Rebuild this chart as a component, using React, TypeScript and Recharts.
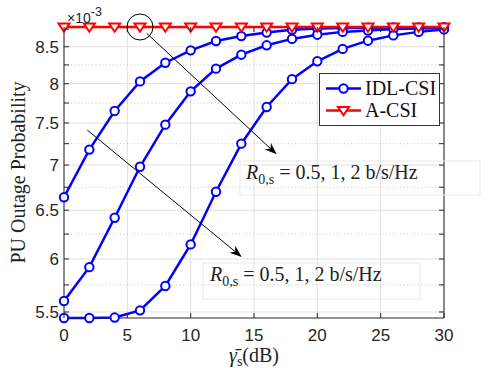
import {
  LineChart,
  Line,
  XAxis,
  YAxis,
  CartesianGrid,
  ReferenceLine,
  ReferenceDot,
  Legend,
  Label,
} from "recharts";

// SNR in dB, sampled every 2 dB
const SNR_DB = [0, 2, 4, 6, 8, 10, 12, 14, 16, 18, 20, 22, 24, 26, 28, 30];
// PU outage probability, in units of 1e-3
const IDL_R05 = [6.64, 7.18, 7.65, 8.03, 8.28, 8.45, 8.58, 8.65, 8.7, 8.74, 8.76, 8.765, 8.77, 8.773, 8.775, 8.777];
const IDL_R1 = [5.6, 5.92, 6.42, 6.98, 7.48, 7.9, 8.2, 8.39, 8.52, 8.61, 8.67, 8.71, 8.73, 8.75, 8.76, 8.766];
const IDL_R2 = [5.446, 5.446, 5.45, 5.515, 5.74, 6.145, 6.7, 7.25, 7.7, 8.06, 8.3, 8.47, 8.585, 8.66, 8.71, 8.745];
const A_CSI = [8.78, 8.78, 8.78, 8.78, 8.78, 8.78, 8.78, 8.78, 8.78, 8.78, 8.78, 8.78, 8.78, 8.78, 8.78, 8.78];

const X_TICKS = [0, 5, 10, 15, 20, 25, 30];
const Y_MAJOR = [5.5, 6, 6.5, 7, 7.5, 8, 8.5];
const Y_MINOR = [5.75, 6.25, 6.75, 7.25, 7.75, 8.25, 8.75];
const Y_DOMAIN = [5.446, 8.78];
const LEGEND_ORDER = ["IDL-CSI", "A-CSI"];

// annotation arrows, in data coordinates
const ARROW_TOP = [{ x: 6.53, y: 8.69 }, { x: 16.79, y: 7.124 }];
const ARROW_BOTTOM = [{ x: 1.84, y: 7.413 }, { x: 14.03, y: 6.02 }];

const data = SNR_DB.map((x, i) => ({
  x,
  r05: IDL_R05[i],
  r1: IDL_R1[i],
  r2: IDL_R2[i],
  acsi: A_CSI[i],
}));

const W = 491;
const H = 368;
const MARGIN = { top: 27, right: 47, bottom: 20, left: 20 };
const PLOT_RIGHT = W - MARGIN.right;
const PLOT_TOP = MARGIN.top;

const AXIS = "#262626";
const BLUE = "#0000ff";
const RED = "#ff0000";
const SANS = '"Liberation Sans", Arial, Helvetica, sans-serif';
const SERIF = '"Liberation Serif", "Times New Roman", serif';

function YTick(props: any) {
  const { x, y, payload } = props;
  const axisX = x + 5;
  const major = Y_MAJOR.some((v) => Math.abs(v - payload.value) < 1e-9);
  return (
    <g>
      <line x1={axisX} x2={axisX + 5} y1={y} y2={y} stroke={AXIS} />
      <line x1={PLOT_RIGHT - 5} x2={PLOT_RIGHT} y1={y} y2={y} stroke={AXIS} />
      {major && (
        <text x={x} y={y} dy="0.36em" textAnchor="end" fill={AXIS} fontSize={17} fontFamily={SANS}>
          {payload.value}
        </text>
      )}
    </g>
  );
}

function XTick(props: any) {
  const { x, y, payload } = props;
  return (
    <g>
      <line x1={x} x2={x} y1={y} y2={y - 5} stroke={AXIS} />
      <line x1={x} x2={x} y1={PLOT_TOP} y2={PLOT_TOP + 5} stroke={AXIS} />
      <text x={x} y={y + 23} textAnchor="middle" fill={AXIS} fontSize={17} fontFamily={SANS}>
        {payload.value}
      </text>
    </g>
  );
}

function TriangleDot(props: any) {
  const { cx, cy } = props;
  if (cx == null || cy == null) return null;
  return (
    <path
      d={`M${cx - 5.5},${cy - 3.5} L${cx + 5.5},${cy - 3.5} L${cx},${cy + 4.8} Z`}
      fill="#fff"
      stroke={RED}
      strokeWidth={2}
    />
  );
}

function Arrow(props: any) {
  const { x1, y1, x2, y2 } = props;
  const a = Math.atan2(y2 - y1, x2 - x1);
  const c = Math.cos(a);
  const s = Math.sin(a);
  const L = 12;
  const hw = 4.5;
  const bx = x2 - L * c;
  const by = y2 - L * s;
  const nx = x2 - 0.7 * L * c;
  const ny = y2 - 0.7 * L * s;
  return (
    <g>
      <line x1={x1} y1={y1} x2={nx} y2={ny} stroke="#000" strokeWidth={1} />
      <path
        d={`M${x2},${y2} L${bx - hw * s},${by + hw * c} L${nx},${ny} L${bx + hw * s},${by - hw * c} Z`}
        fill="#000"
      />
    </g>
  );
}

function LegendBox(props: any) {
  const seen = new Set<string>();
  const items = (props.payload || [])
    .filter((p: any) => {
      if (seen.has(p.value)) return false;
      seen.add(p.value);
      return true;
    })
    .sort((a: any, b: any) => LEGEND_ORDER.indexOf(a.value) - LEGEND_ORDER.indexOf(b.value));
  return (
    <svg width={121} height={53} style={{ display: "block" }}>
      <rect x={0.5} y={0.5} width={120} height={52} fill="#fff" stroke="#333" strokeWidth={1} />
      {items.map((item: any, i: number) => {
        const cy = 15.5 + i * 22;
        const tri = item.value === "A-CSI";
        return (
          <g key={item.value}>
            <line x1={7} x2={42} y1={cy} y2={cy} stroke={item.color} strokeWidth={2.5} />
            {tri ? (
              <TriangleDot cx={24.5} cy={cy} />
            ) : (
              <circle cx={24.5} cy={cy} r={4.2} fill="#fff" stroke={item.color} strokeWidth={2} />
            )}
            <text x={46} y={cy} dy="0.33em" fontSize={20} fontFamily={SERIF} fill="#111">
              {item.value}
            </text>
          </g>
        );
      })}
    </svg>
  );
}

function RateNote({ x, y, bx, by, bw, bh }: { x: number; y: number; bx: number; by: number; bw: number; bh: number }) {
  return (
    <g>
      <rect x={bx} y={by} width={bw} height={bh} fill="none" stroke="#e9e9e9" />
      <text x={x} y={y} fontFamily={SERIF} fontSize={20} fill="#222">
        <tspan fontStyle="italic">R</tspan>
        <tspan fontSize={14} dy={5}>0,s</tspan>
        <tspan dy={-5}>{"\u00a0=\u00a00.5,\u00a01,\u00a02 b/s/Hz"}</tspan>
      </text>
    </g>
  );
}

export default function App() {
  return (
    <div style={{ position: "absolute", left: 0, top: 0, width: W, height: H, background: "#fff" }}>
      <LineChart width={W} height={H} data={data} margin={MARGIN} style={{ fontFamily: SANS }}>
        <CartesianGrid horizontal={false} stroke="#e0e0e0" />
        {Y_MAJOR.map((v) => (
          <ReferenceLine key={`g${v}`} y={v} stroke="#e0e0e0" />
        ))}
        {Y_MINOR.map((v) => (
          <ReferenceLine key={`m${v}`} y={v} stroke="#c4c4c4" strokeDasharray="1 2.5" />
        ))}
        <XAxis
          dataKey="x"
          type="number"
          domain={[0, 30]}
          ticks={X_TICKS}
          interval={0}
          tick={<XTick />}
          tickSize={0}
          tickMargin={0}
          tickLine={false}
          height={30}
          axisLine={{ stroke: AXIS }}
        >
          <Label
            content={(p: any) => {
              const vb = p.viewBox || { x: 64, y: 318, width: 380 };
              return (
                <text
                  x={vb.x + vb.width / 2}
                  y={vb.y + 44}
                  textAnchor="middle"
                  fontFamily={SERIF}
                  fontSize={20}
                  fill="#222"
                >
                  <tspan fontStyle="italic">{"\u03b3\u0304"}</tspan>
                  <tspan fontSize={14} dy={4}>s</tspan>
                  <tspan dy={-4}>(dB)</tspan>
                </text>
              );
            }}
          />
        </XAxis>
        <YAxis
          type="number"
          scale="log"
          domain={Y_DOMAIN}
          ticks={[...Y_MAJOR, ...Y_MINOR].sort((a, b) => a - b)}
          interval={0}
          tick={<YTick />}
          tickSize={0}
          tickMargin={5}
          tickLine={false}
          width={44}
          axisLine={{ stroke: AXIS }}
        >
          <Label
            content={(p: any) => {
              const vb = p.viewBox || { x: 20, y: 27, height: 291 };
              const cy = vb.y + vb.height / 2;
              return (
                <text
                  x={25}
                  y={cy}
                  transform={`rotate(-90, 25, ${cy})`}
                  textAnchor="middle"
                  fontFamily={SERIF}
                  fontSize={20}
                  fill="#222"
                >
                  PU Outage Probability
                </text>
              );
            }}
          />
        </YAxis>
        <ReferenceLine x={30} stroke={AXIS} />
        <ReferenceLine y={Y_DOMAIN[1]} stroke={AXIS} />
        <Legend
          layout="vertical"
          align="center"
          verticalAlign="middle"
          content={<LegendBox />}
          wrapperStyle={{ left: 319, top: 73, width: 121, height: 53 }}
        />
        <Line
          type="linear"
          dataKey="r05"
          name="IDL-CSI"
          stroke={BLUE}
          strokeWidth={2.5}
          dot={{ r: 4.2, fill: "#fff", stroke: BLUE, strokeWidth: 2 }}
          activeDot={false}
          isAnimationActive={false}
        />
        <Line
          type="linear"
          dataKey="r1"
          name="IDL-CSI"
          stroke={BLUE}
          strokeWidth={2.5}
          dot={{ r: 4.2, fill: "#fff", stroke: BLUE, strokeWidth: 2 }}
          activeDot={false}
          isAnimationActive={false}
        />
        <Line
          type="linear"
          dataKey="r2"
          name="IDL-CSI"
          stroke={BLUE}
          strokeWidth={2.5}
          dot={{ r: 4.2, fill: "#fff", stroke: BLUE, strokeWidth: 2 }}
          activeDot={false}
          isAnimationActive={false}
        />
        <Line
          type="linear"
          dataKey="acsi"
          name="A-CSI"
          stroke={RED}
          strokeWidth={2.5}
          dot={<TriangleDot />}
          activeDot={false}
          isAnimationActive={false}
        />
        <ReferenceDot x={6} y={8.78} r={13} fill="none" stroke="#000" strokeWidth={1} ifOverflow="visible" />
        <ReferenceLine
          segment={ARROW_TOP}
          ifOverflow="visible"
          shape={(p: any) => <Arrow {...p} />}
        />
        <ReferenceLine
          segment={ARROW_BOTTOM}
          ifOverflow="visible"
          shape={(p: any) => <Arrow {...p} />}
        />
      </LineChart>
      <svg
        width={W}
        height={H}
        style={{ position: "absolute", left: 0, top: 0, pointerEvents: "none" }}
      >
        <text x={67} y={23} fontFamily={SANS} fontSize={14} fill={AXIS}>
          ×10
          <tspan fontSize={12.5} dy={-7}>
            -3
          </tspan>
        </text>
        <RateNote x={246} y={179} bx={240} by={161} bw={240} bh={34} />
        <RateNote x={210} y={281} bx={203} by={263} bw={217} bh={36} />
      </svg>
    </div>
  );
}
